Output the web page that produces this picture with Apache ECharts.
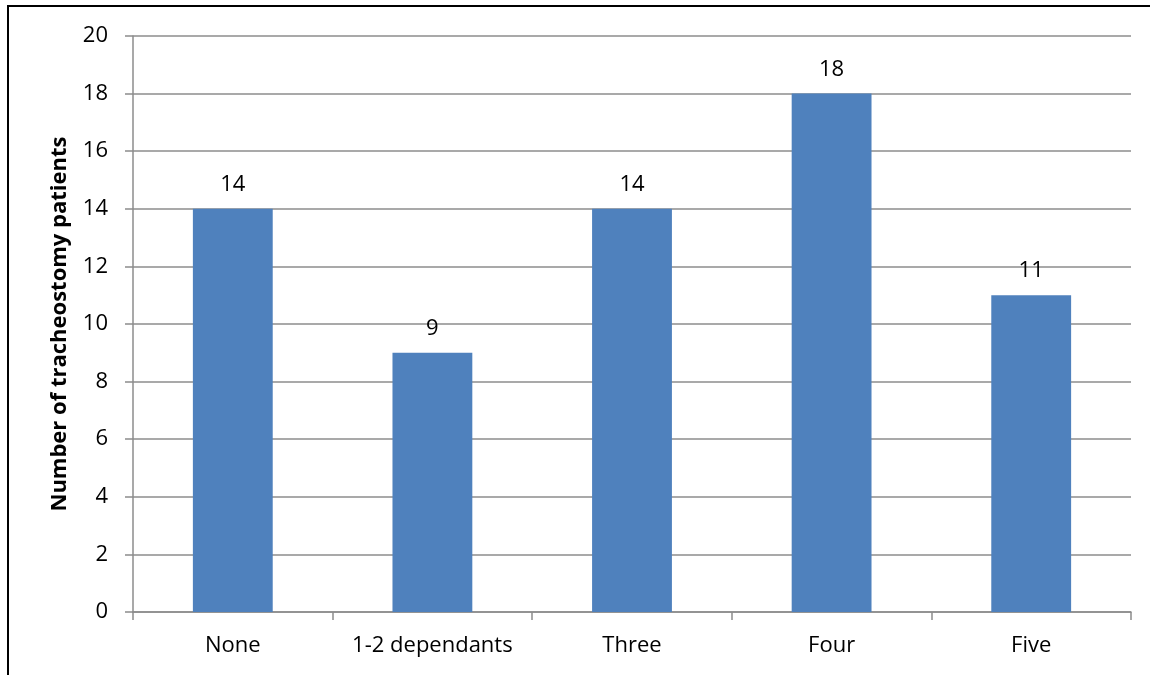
<!DOCTYPE html>
<html>
<head>
<meta charset="utf-8">
<script src="https://cdn.jsdelivr.net/npm/echarts@6/dist/echarts.min.js"></script>
<style>
  html, body { margin: 0; padding: 0; background: #fff; }
  #wrap { position: relative; width: 1150px; height: 675px; overflow: hidden; }
  #frame { position: absolute; left: 7px; top: 5px; right: -10px; bottom: -10px;
           border-top: 2px solid #000; border-left: 2px solid #000; }
  #chart { position: absolute; left: 0; top: 0; width: 1150px; height: 675px; }
</style>
</head>
<body>
<div id="wrap">
  <div id="frame"></div>
  <div id="chart"></div>
</div>
<script>
// Dependants per patient and patient counts
const categories = ['None', '1-2 dependants', 'Three', 'Four', 'Five'];
const patients = [14, 9, 14, 18, 11];
const yTicks = { min: 0, max: 20, interval: 2 };

const FONT = 'Open Sans, Liberation Sans, sans-serif';
const GRID_GRAY = '#8c8c8c';

const chart = echarts.init(document.getElementById('chart'), null, { renderer: 'canvas' });
chart.setOption({
  animation: false,
  backgroundColor: 'transparent',
  grid: { left: 133, right: 19, top: 36, bottom: 63, containLabel: false },
  xAxis: {
    type: 'category',
    data: categories,
    boundaryGap: true,
    axisLine: { show: true, lineStyle: { color: GRID_GRAY, width: 1.5 } },
    axisTick: { show: true, interval: 0, length: 8, alignWithLabel: false, lineStyle: { color: GRID_GRAY, width: 1.5 } },
    axisLabel: { interval: 0, hideOverlap: false, color: '#000', fontFamily: FONT, fontSize: 22, margin: 23 }
  },
  yAxis: {
    type: 'value',
    min: yTicks.min, max: yTicks.max, interval: yTicks.interval,
    name: 'Number of tracheostomy patients',
    nameLocation: 'middle',
    nameGap: 62,
    nameTextStyle: { color: '#000', fontFamily: FONT, fontSize: 22, fontWeight: 'bold' },
    axisLine: { show: true, lineStyle: { color: GRID_GRAY, width: 1.5 } },
    axisTick: { show: true, length: 8, lineStyle: { color: GRID_GRAY, width: 1.5 } },
    axisLabel: { color: '#000', fontFamily: FONT, fontSize: 22, margin: 25 },
    splitLine: { show: true, lineStyle: { color: GRID_GRAY, width: 1.5 } }
  },
  series: [{
    type: 'bar',
    data: patients,
    barWidth: '40%',
    itemStyle: { color: '#4f81bd' },
    label: { show: true, position: 'top', distance: 13, color: '#000', fontFamily: FONT, fontSize: 22 }
  }]
});
</script>
</body>
</html>
